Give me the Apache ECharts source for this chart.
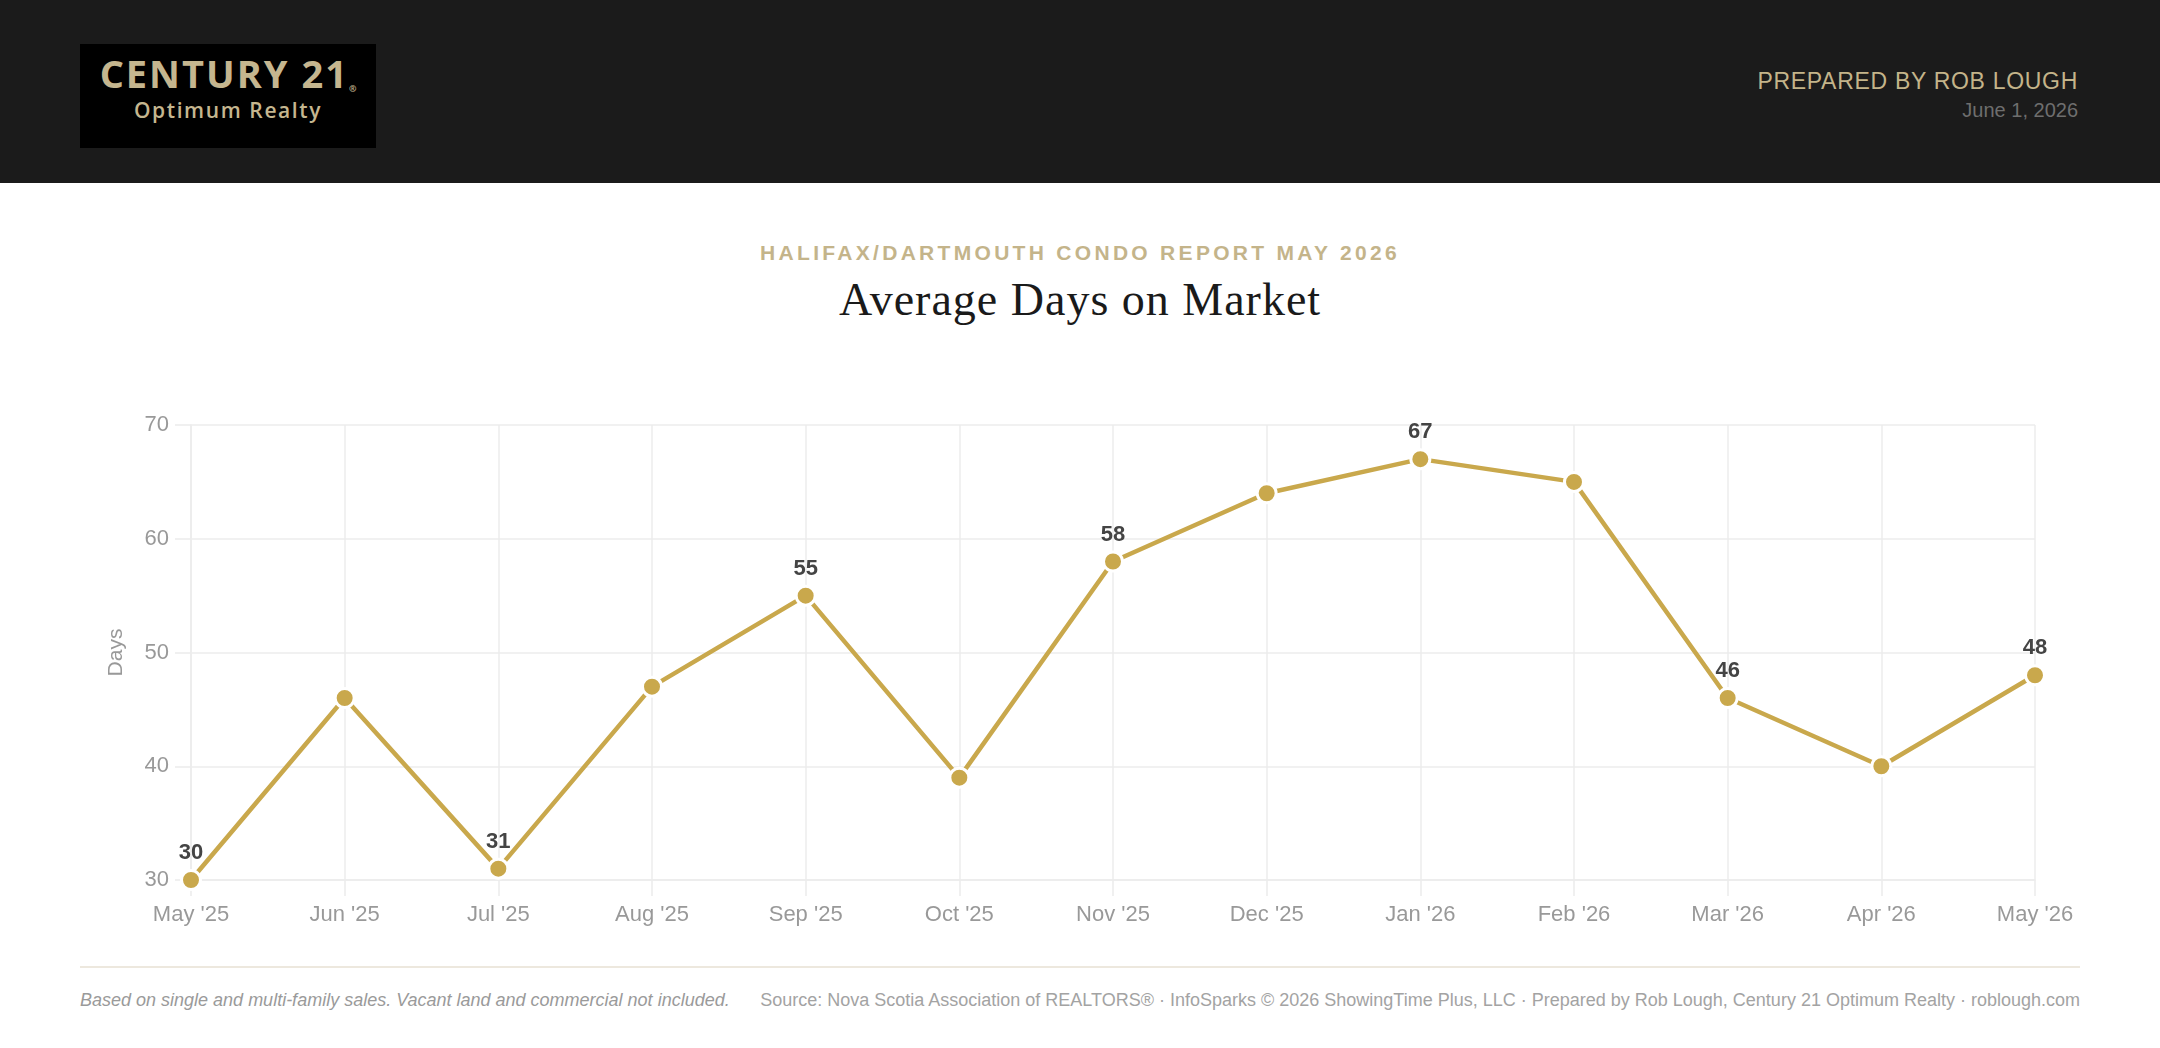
<!DOCTYPE html>
<html>
<head>
<meta charset="utf-8">
<script src="https://cdn.jsdelivr.net/npm/echarts@6/dist/echarts.min.js"></script>
<style>
  html, body { margin: 0; padding: 0; background: #ffffff; width: 2160px; height: 1048px; overflow: hidden; }
  #header { position: absolute; left: 0; top: 0; width: 2160px; height: 183px; background: #1b1b1b; }
  #logo { position: absolute; left: 80px; top: 44px; width: 296px; height: 104px; background: #000; text-align: center; }
  #logo .c21 { position: absolute; left: 0; width: 296px; top: 4px; font-family: "Open Sans", sans-serif; font-weight: 700; font-size: 38px; letter-spacing: 2px; color: #c5b68f; line-height: 50px; }
  #logo .c21 sup { font-size: 9px; letter-spacing: 0; vertical-align: 0; position: relative; top: 4px; }
  #logo .opt { position: absolute; left: 0; width: 296px; top: 52px; font-family: "Open Sans", sans-serif; font-weight: 600; font-size: 21px; letter-spacing: 1.6px; color: #c5b68f; line-height: 28px; }
  #prep { position: absolute; right: 82px; top: 67px; font-family: "Liberation Sans", Arial, sans-serif; font-size: 23px; letter-spacing: 0.7px; color: #c4b48a; text-align: right; line-height: 28px; }
  #date { position: absolute; right: 82px; top: 98px; font-family: "Liberation Sans", Arial, sans-serif; font-size: 20px; color: #6e6e6e; text-align: right; line-height: 24px; }
  #sub { position: absolute; left: 0; width: 2160px; top: 239px; text-align: center; font-family: "Liberation Sans", Arial, sans-serif; font-weight: 700; font-size: 21px; letter-spacing: 3.3px; color: #c4b48a; line-height: 28px; }
  #title { position: absolute; left: 0; width: 2160px; top: 272px; text-align: center; font-family: "Liberation Serif", "Times New Roman", serif; font-size: 46px; letter-spacing: 1px; color: #1a1a1a; line-height: 56px; }
  #chart { position: absolute; left: 0; top: 300px; width: 2160px; height: 660px; }
  #rule { position: absolute; left: 80px; top: 966px; width: 2000px; height: 2px; background: #ede8de; }
  #noteL { position: absolute; left: 80px; top: 988px; font-family: "Liberation Sans", Arial, sans-serif; font-style: italic; font-size: 18px; color: #9a9a9a; line-height: 24px; }
  #noteR { position: absolute; right: 80px; top: 988px; font-family: "Liberation Sans", Arial, sans-serif; font-size: 18px; color: #a3a3a3; line-height: 24px; text-align: right; }
</style>
</head>
<body>
<div id="header">
  <div id="logo">
    <div class="c21">CENTURY 21<sup>®</sup></div>
    <div class="opt">Optimum Realty</div>
  </div>
  <div id="prep">PREPARED BY ROB LOUGH</div>
  <div id="date">June 1, 2026</div>
</div>
<div id="sub">HALIFAX/DARTMOUTH CONDO REPORT MAY 2026</div>
<div id="title">Average Days on Market</div>
<div id="chart"></div>
<div id="rule"></div>
<div id="noteL">Based on single and multi-family sales. Vacant land and commercial not included.</div>
<div id="noteR">Source: Nova Scotia Association of REALTORS® · InfoSparks © 2026 ShowingTime Plus, LLC · Prepared by Rob Lough, Century 21 Optimum Realty · roblough.com</div>
<script>
const months = ["May '25", "Jun '25", "Jul '25", "Aug '25", "Sep '25", "Oct '25", "Nov '25", "Dec '25", "Jan '26", "Feb '26", "Mar '26", "Apr '26", "May '26"];
const avgDays = [30, 46, 31, 47, 55, 39, 58, 64, 67, 65, 46, 40, 48];
const yTicks = [30, 40, 50, 60, 70];

const chart = echarts.init(document.getElementById('chart'));
const gridColor = '#ececec';
chart.setOption({
  animation: false,
  grid: { left: 191, right: 125, top: 125, bottom: 80 },
  xAxis: {
    type: 'category',
    data: months,
    boundaryGap: false,
    axisLine: { show: true, lineStyle: { color: gridColor, width: 1.5 } },
    axisTick: { show: true, length: 16, lineStyle: { color: gridColor, width: 1.5 } },
    splitLine: { show: true, lineStyle: { color: gridColor, width: 1.5 } },
    axisLabel: { color: '#999999', fontSize: 22, margin: 24, fontFamily: 'Liberation Sans, Arial, sans-serif' }
  },
  yAxis: {
    type: 'value',
    min: yTicks[0],
    max: yTicks[yTicks.length - 1],
    interval: 10,
    name: 'Days',
    nameLocation: 'middle',
    nameGap: 64,
    nameRotate: 90,
    nameTextStyle: { color: '#999999', fontSize: 21, fontFamily: 'Liberation Sans, Arial, sans-serif' },
    axisLine: { show: true, lineStyle: { color: gridColor, width: 1.5 } },
    axisTick: { show: true, length: 16, lineStyle: { color: gridColor, width: 1.5 } },
    splitLine: { show: true, lineStyle: { color: gridColor, width: 1.5 } },
    axisLabel: { color: '#999999', fontSize: 22, margin: 22, fontFamily: 'Liberation Sans, Arial, sans-serif' }
  },
  series: [{
    type: 'line',
    data: avgDays,
    symbol: 'circle',
    symbolSize: 19,
    showAllSymbol: true,
    lineStyle: { color: '#c9a84c', width: 4.5 },
    itemStyle: { color: '#c9a84c', borderColor: '#ffffff', borderWidth: 3 },
    label: {
      show: true,
      position: 'top',
      distance: 5,
      color: '#444444',
      fontSize: 22,
      fontWeight: 'bold',
      fontFamily: 'Liberation Sans, Arial, sans-serif',
      formatter: function (p) { return p.dataIndex % 2 === 0 ? String(p.value) : ''; }
    }
  }]
});
</script>
</body>
</html>
